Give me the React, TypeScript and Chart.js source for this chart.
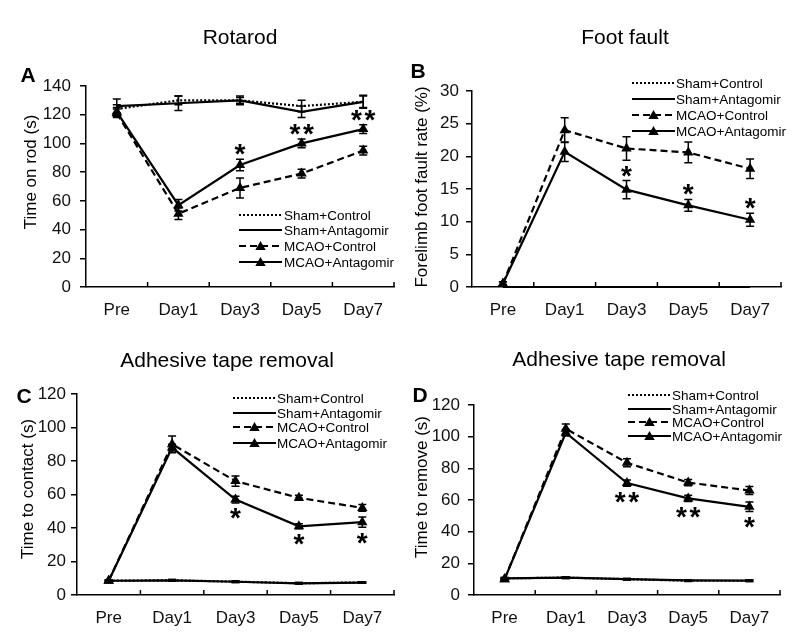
import React, { useEffect, useRef } from "react";
import { Chart, registerables } from "chart.js";

Chart.register(...registerables);

const FONT = '"Liberation Sans", Arial, sans-serif';

const categories = ["Pre", "Day1", "Day3", "Day5", "Day7"];
const seriesNames = ["Sham+Control", "Sham+Antagomir", "MCAO+Control", "MCAO+Antagomir"];

// A: Rotarod (Time on rod, s)
const rotarodShamControl = [124, 130, 130, 126, 129];
const rotarodShamControlErr = [3, 3, 2, 4, 4];
const rotarodShamAntagomir = [126, 128, 130, 122, 129];
const rotarodShamAntagomirErr = [5, 5, 3, 4, 4.5];
const rotarodMcaoControl = [121, 51, 69, 79, 95];
const rotarodMcaoControlErr = [3, 4, 7, 3, 3];
const rotarodMcaoAntagomir = [122, 57, 85, 100, 110];
const rotarodMcaoAntagomirErr = [3, 4, 4, 3, 3];
const rotarodStars = ["", "", "*", "**", "**"];

// B: Foot fault (Forelimb foot fault rate, %)
const footShamControl = [0, 0, 0, 0, 0];
const footShamControlErr = [0, 0, 0, 0, 0];
const footShamAntagomir = [0, 0, 0, 0, 0];
const footShamAntagomirErr = [0, 0, 0, 0, 0];
const footMcaoControl = [0.5, 24.0, 21.2, 20.6, 18.1];
const footMcaoControlErr = [0.3, 1.9, 1.8, 1.6, 1.5];
const footMcaoAntagomir = [0.5, 20.7, 14.9, 12.5, 10.3];
const footMcaoAntagomirErr = [0.3, 1.5, 1.4, 0.9, 1.0];
const footStars = ["", "", "*", "*", "*"];

// C: Adhesive tape removal (Time to contact, s)
const contactShamControl = [8.5, 8.8, 8.0, 7.0, 7.5];
const contactShamControlErr = [0.5, 0.5, 0.5, 0.4, 0.4];
const contactShamAntagomir = [8.5, 8.7, 7.9, 7.0, 7.4];
const contactShamAntagomirErr = [0.5, 0.5, 0.5, 0.4, 0.4];
const contactMcaoControl = [8.5, 90, 68, 58, 52];
const contactMcaoControlErr = [0.5, 5, 3, 1.5, 2];
const contactMcaoAntagomir = [8.5, 88, 57, 41, 43.5];
const contactMcaoAntagomirErr = [0.5, 2, 2, 1.5, 3];
const contactStars = ["", "", "*", "*", "*"];

// D: Adhesive tape removal (Time to remove, s)
const removeShamControl = [10.5, 11, 10, 9, 9];
const removeShamControlErr = [0.5, 0.5, 0.5, 0.5, 0.5];
const removeShamAntagomir = [10.5, 11, 10, 9.2, 9.1];
const removeShamAntagomirErr = [0.5, 0.5, 0.5, 0.5, 0.5];
const removeMcaoControl = [10, 105, 83.5, 71, 66];
const removeMcaoControlErr = [0.5, 3, 2.5, 2, 2.5];
const removeMcaoAntagomir = [10, 102.5, 70.7, 61, 55.7];
const removeMcaoAntagomirErr = [0.5, 2, 2, 2, 3];
const removeStars = ["", "", "**", "**", "*"];

type SeriesCfg = { values: number[]; errors: number[] };
type PanelCfg = {
  title: string;
  titleX: number;
  titleY: number;
  letter: string;
  letterX: number;
  letterY: number;
  yTitle: string;
  yTitleX: number;
  yTitleY: number;
  area: { left: number; right: number; top: number; bottom: number };
  yMax: number;
  yStep: number;
  tickPad: number;
  series: SeriesCfg[];
  stars: string[];
  starsAbove: boolean;
  legend: { x: number; len: number; textX: number; rows: number[] };
};

const panels: PanelCfg[] = [
  {
    title: "Rotarod", titleX: 240, titleY: 38,
    letter: "A", letterX: 28, letterY: 76,
    yTitle: "Time on rod (s)", yTitleX: 31, yTitleY: 172,
    area: { left: 86, right: 397, top: 86, bottom: 287 },
    yMax: 140, yStep: 20, tickPad: 9,
    series: [
      { values: rotarodShamControl, errors: rotarodShamControlErr },
      { values: rotarodShamAntagomir, errors: rotarodShamAntagomirErr },
      { values: rotarodMcaoControl, errors: rotarodMcaoControlErr },
      { values: rotarodMcaoAntagomir, errors: rotarodMcaoAntagomirErr },
    ],
    stars: rotarodStars, starsAbove: true,
    legend: { x: 239, len: 43, textX: 284, rows: [215, 230, 246, 262] },
  },
  {
    title: "Foot fault", titleX: 225, titleY: 38,
    letter: "B", letterX: 18, letterY: 72,
    yTitle: "Forelimb foot fault rate (%)", yTitleX: 22, yTitleY: 187,
    area: { left: 72, right: 381, top: 91, bottom: 287 },
    yMax: 30, yStep: 5, tickPad: 7,
    series: [
      { values: footShamControl, errors: footShamControlErr },
      { values: footShamAntagomir, errors: footShamAntagomirErr },
      { values: footMcaoControl, errors: footMcaoControlErr },
      { values: footMcaoAntagomir, errors: footMcaoAntagomirErr },
    ],
    stars: footStars, starsAbove: true,
    legend: { x: 232, len: 43, textX: 276, rows: [83, 99, 115, 131] },
  },
  {
    title: "Adhesive tape removal", titleX: 227, titleY: 43,
    letter: "C", letterX: 24, letterY: 79,
    yTitle: "Time to contact (s)", yTitleX: 28, yTitleY: 171,
    area: { left: 77, right: 395, top: 76, bottom: 277 },
    yMax: 120, yStep: 20, tickPad: 5,
    series: [
      { values: contactShamControl, errors: contactShamControlErr },
      { values: contactShamAntagomir, errors: contactShamAntagomirErr },
      { values: contactMcaoControl, errors: contactMcaoControlErr },
      { values: contactMcaoAntagomir, errors: contactMcaoAntagomirErr },
    ],
    stars: contactStars, starsAbove: false,
    legend: { x: 233, len: 43, textX: 277, rows: [80, 95, 109, 125] },
  },
  {
    title: "Adhesive tape removal", titleX: 219, titleY: 42,
    letter: "D", letterX: 20, letterY: 78,
    yTitle: "Time to remove (s)", yTitleX: 22, yTitleY: 169,
    area: { left: 74, right: 380, top: 87, bottom: 277 },
    yMax: 120, yStep: 20, tickPad: 8,
    series: [
      { values: removeShamControl, errors: removeShamControlErr },
      { values: removeShamAntagomir, errors: removeShamAntagomirErr },
      { values: removeMcaoControl, errors: removeMcaoControlErr },
      { values: removeMcaoAntagomir, errors: removeMcaoAntagomirErr },
    ],
    stars: removeStars, starsAbove: false,
    legend: { x: 228, len: 43, textX: 272, rows: [77, 91, 104, 118] },
  },
];

const W = 400;
const H = 318;
const INK = "#000";
const dashes: number[][] = [[2, 2], [], [7, 4], []];
const hasMarker = [false, false, true, true];
const TRI_R = 6;

function triangle(ctx: CanvasRenderingContext2D, x: number, y: number, r: number) {
  ctx.beginPath();
  ctx.moveTo(x, y - r);
  ctx.lineTo(x + 0.866 * r, y + 0.5 * r);
  ctx.lineTo(x - 0.866 * r, y + 0.5 * r);
  ctx.closePath();
  ctx.fill();
}

function makeDecor(cfg: PanelCfg) {
  return {
    id: "decor",
    afterDatasetsDraw(chart: any) {
      const ctx: CanvasRenderingContext2D = chart.ctx;
      const yScale = chart.scales.y;
      const xScale = chart.scales.x;
      const ca = chart.chartArea;
      ctx.save();
      // error bars
      ctx.strokeStyle = INK;
      ctx.lineWidth = 1.5;
      ctx.setLineDash([]);
      cfg.series.forEach((s, i) => {
        const meta = chart.getDatasetMeta(i);
        s.values.forEach((v, j) => {
          const e = s.errors[j];
          if (!e) return;
          const x = meta.data[j].x;
          const yt = yScale.getPixelForValue(v + e);
          const yb = yScale.getPixelForValue(v - e);
          ctx.beginPath();
          ctx.moveTo(x, yt);
          ctx.lineTo(x, yb);
          ctx.moveTo(x - 4, yt);
          ctx.lineTo(x + 4, yt);
          ctx.moveTo(x - 4, yb);
          ctx.lineTo(x + 4, yb);
          ctx.stroke();
        });
      });
      // inward x ticks at category boundaries
      const n = categories.length;
      const half = (xScale.getPixelForTick(1) - xScale.getPixelForTick(0)) / 2;
      ctx.lineWidth = 1.5;
      for (let i = 0; i < n; i++) {
        const bx = i === n - 1 ? ca.right : xScale.getPixelForTick(i) + half;
        ctx.beginPath();
        ctx.moveTo(bx, ca.bottom);
        ctx.lineTo(bx, ca.bottom - 5);
        ctx.stroke();
      }
      // significance stars
      const sIdx = 3;
      const ser = cfg.series[sIdx];
      const meta = chart.getDatasetMeta(sIdx);
      ctx.fillStyle = INK;
      ctx.font = `bold 28px ${FONT}`;
      ctx.textAlign = "center";
      ctx.textBaseline = "alphabetic";
      cfg.stars.forEach((st, j) => {
        if (!st) return;
        const x = meta.data[j].x;
        const v = ser.values[j];
        const e = ser.errors[j];
        const cy = cfg.starsAbove
          ? yScale.getPixelForValue(v + e) - 9.5
          : yScale.getPixelForValue(v - e) + 11;
        const m = ctx.measureText("*");
        const base = cy + (m.actualBoundingBoxAscent - m.actualBoundingBoxDescent) / 2;
        const k = st.length;
        for (let q = 0; q < k; q++) {
          ctx.fillText("*", x + (q - (k - 1) / 2) * 13.5, base);
        }
      });
      ctx.restore();
    },
    afterDraw(chart: any) {
      const ctx: CanvasRenderingContext2D = chart.ctx;
      ctx.save();
      ctx.fillStyle = INK;
      // title
      ctx.font = `21px ${FONT}`;
      ctx.textAlign = "center";
      ctx.textBaseline = "middle";
      ctx.fillText(cfg.title, cfg.titleX, cfg.titleY);
      // panel letter
      ctx.font = `bold 21px ${FONT}`;
      ctx.fillText(cfg.letter, cfg.letterX, cfg.letterY);
      // y title
      ctx.save();
      ctx.translate(cfg.yTitleX, cfg.yTitleY);
      ctx.rotate(-Math.PI / 2);
      ctx.font = `17px ${FONT}`;
      ctx.fillText(cfg.yTitle, 0, 0);
      ctx.restore();
      // legend
      const lg = cfg.legend;
      ctx.font = `13.5px ${FONT}`;
      ctx.textAlign = "left";
      ctx.textBaseline = "middle";
      seriesNames.forEach((name, k) => {
        const y = lg.rows[k];
        ctx.strokeStyle = INK;
        ctx.lineWidth = 2;
        ctx.setLineDash(dashes[k]);
        ctx.beginPath();
        ctx.moveTo(lg.x, y);
        ctx.lineTo(lg.x + lg.len, y);
        ctx.stroke();
        ctx.setLineDash([]);
        if (hasMarker[k]) triangle(ctx, lg.x + lg.len / 2, y + 1, TRI_R);
        ctx.fillText(name, lg.textX, y + 1);
      });
      ctx.restore();
    },
  };
}

function Panel({ cfg, left, top }: { cfg: PanelCfg; left: number; top: number }) {
  const ref = useRef<HTMLCanvasElement | null>(null);
  useEffect(() => {
    if (!ref.current) return;
    const a = cfg.area;
    const chart = new Chart(ref.current, {
      type: "line",
      data: {
        labels: categories,
        datasets: cfg.series.map((s, k) => ({
          label: seriesNames[k],
          data: s.values,
          borderColor: INK,
          backgroundColor: INK,
          borderWidth: 2.2,
          borderDash: dashes[k],
          pointStyle: "triangle",
          pointRadius: hasMarker[k] ? TRI_R : 0,
          pointBorderWidth: 0,
          pointBackgroundColor: INK,
          tension: 0,
          clip: false as any,
        })),
      },
      options: {
        responsive: false,
        animation: false,
        devicePixelRatio: 1,
        layout: { padding: { left: 0, right: W - a.right, top: a.top, bottom: 0 } },
        plugins: { legend: { display: false }, tooltip: { enabled: false }, title: { display: false } },
        scales: {
          x: {
            type: "category",
            offset: true,
            grid: { display: true, drawOnChartArea: false, drawTicks: false, color: INK },
            border: { display: true, color: INK, width: 1.5 },
            ticks: { color: "#111", font: { family: FONT, size: 17 }, padding: 13, maxRotation: 0 },
            afterFit: (s: any) => {
              s.height = H - a.bottom;
              s.paddingLeft = 0;
              s.paddingRight = 0;
            },
          },
          y: {
            min: 0,
            max: cfg.yMax,
            grid: { display: true, drawOnChartArea: false, drawTicks: true, tickLength: 6, color: INK, lineWidth: 1.5 },
            border: { display: true, color: INK, width: 1.5 },
            ticks: { stepSize: cfg.yStep, color: "#111", font: { family: FONT, size: 17 }, padding: cfg.tickPad },
            afterFit: (s: any) => {
              s.width = a.left;
              s.paddingTop = 0;
              s.paddingBottom = 0;
            },
          },
        },
      },
      plugins: [makeDecor(cfg)],
    });
    return () => chart.destroy();
  }, [cfg]);
  return (
    <div style={{ position: "absolute", left, top, width: W, height: H }}>
      <canvas ref={ref} width={W} height={H} style={{ width: W, height: H, display: "block" }} />
    </div>
  );
}

export default function App() {
  return (
    <div style={{ position: "fixed", left: 0, top: 0, width: 800, height: 636, background: "#fff", overflow: "hidden" }}>
      <Panel cfg={panels[0]} left={0} top={0} />
      <Panel cfg={panels[1]} left={400} top={0} />
      <Panel cfg={panels[2]} left={0} top={318} />
      <Panel cfg={panels[3]} left={400} top={318} />
    </div>
  );
}
